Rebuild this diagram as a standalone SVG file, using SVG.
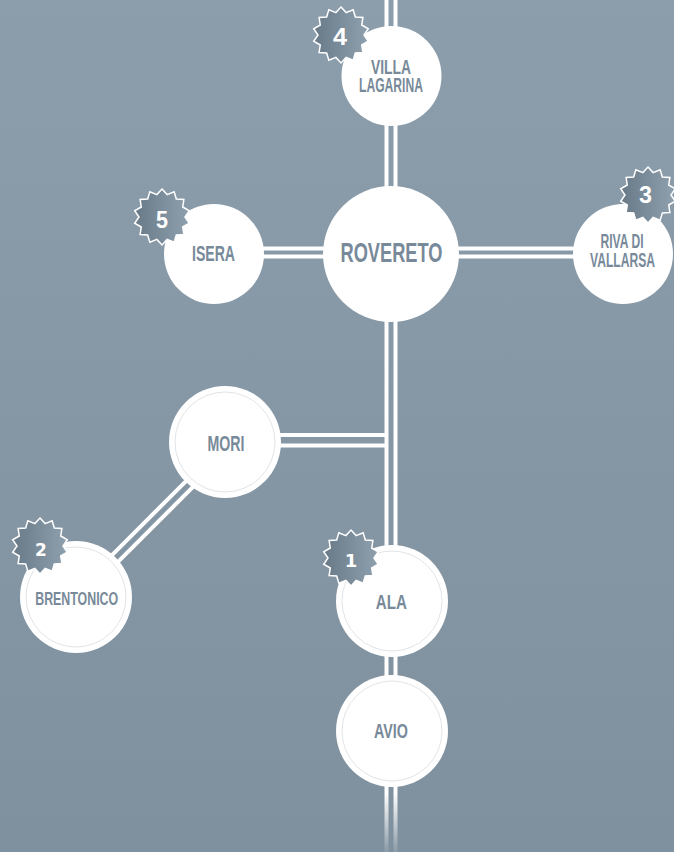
<svg xmlns="http://www.w3.org/2000/svg" width="674" height="852" viewBox="0 0 674 852">
  <defs>
    <linearGradient id="bg" x1="0" y1="0" x2="0" y2="1">
      <stop offset="0" stop-color="#8c9dab"/>
      <stop offset="1" stop-color="#7f909e"/>
    </linearGradient>
    <linearGradient id="fade" gradientUnits="userSpaceOnUse" x1="0" y1="0" x2="0" y2="852">
      <stop offset="0" stop-color="#ffffff" stop-opacity="1"/>
      <stop offset="0.93" stop-color="#ffffff" stop-opacity="1"/>
      <stop offset="1" stop-color="#ffffff" stop-opacity="0.1"/>
    </linearGradient>
    <linearGradient id="badgeFill" x1="0" y1="0" x2="1" y2="0">
      <stop offset="0" stop-color="#687988"/>
      <stop offset="1" stop-color="#8fa0ae"/>
    </linearGradient>
    <polygon id="star" points="0,-28 5.12,-22.42 12.15,-25.23 14.34,-17.98 21.89,-17.46 20.72,-9.98 27.3,-6.23 23,0 27.3,6.23 20.72,9.98 21.89,17.46 14.34,17.98 12.15,25.23 5.12,22.42 0,28 -5.12,22.42 -12.15,25.23 -14.34,17.98 -21.89,17.46 -20.72,9.98 -27.3,6.23 -23,0 -27.3,-6.23 -20.72,-9.98 -21.89,-17.46 -14.34,-17.98 -12.15,-25.23 -5.12,-22.42"/>
    <style>
      .road { stroke: #ffffff; stroke-width: 4; fill: none; }
      .node { fill: #ffffff; }
      .ring { fill: none; stroke: #e1e4e7; stroke-width: 1; }
      .lbl { font-family: "Liberation Sans", Arial, sans-serif; font-weight: bold; fill: #788a99; text-anchor: middle; }
      .badge { fill: url(#badgeFill); stroke: #ffffff; stroke-width: 1.5; stroke-linejoin: miter; }
      .num { font-family: "Liberation Sans", Arial, sans-serif; font-weight: bold; fill: #ffffff; text-anchor: middle; }
      .num2 { font-family: "DejaVu Sans", sans-serif; font-weight: bold; fill: #ffffff; text-anchor: middle; }
    </style>
  </defs>

  <rect x="0" y="0" width="674" height="852" fill="url(#bg)"/>

  <g id="connectors">
    <line x1="386.5" y1="0" x2="386.5" y2="852" stroke="url(#fade)" stroke-width="4"/>
    <line x1="395.5" y1="0" x2="395.5" y2="852" stroke="url(#fade)" stroke-width="4"/>
    <line class="road" x1="250" y1="248.5" x2="580" y2="248.5"/>
    <line class="road" x1="250" y1="256.5" x2="580" y2="256.5"/>
    <line class="road" x1="260" y1="435" x2="386" y2="435"/>
    <line class="road" x1="260" y1="445.5" x2="386" y2="445.5"/>
    <line class="road" x1="93.2" y1="586.7" x2="218.2" y2="461.7"/>
    <line class="road" x1="86.8" y1="580.3" x2="211.8" y2="455.3"/>
  </g>

  <g id="node-villa-lagarina">
    <circle class="node" cx="391.5" cy="76" r="50"/>
    <text class="lbl" x="391" y="74" font-size="20" textLength="40" lengthAdjust="spacingAndGlyphs">VILLA</text>
    <text class="lbl" x="391" y="91.5" font-size="20" textLength="64" lengthAdjust="spacingAndGlyphs">LAGARINA</text>
    <use href="#star" class="badge" x="341" y="35"/>
    <text class="num" x="340" y="45" font-size="24" textLength="14" lengthAdjust="spacingAndGlyphs">4</text>
  </g>

  <g id="node-rovereto">
    <circle class="node" cx="391" cy="254" r="68"/>
    <text class="lbl" x="391.5" y="261.5" font-size="28" textLength="102" lengthAdjust="spacingAndGlyphs">ROVERETO</text>
  </g>

  <g id="node-isera">
    <circle class="node" cx="214" cy="254" r="50"/>
    <text class="lbl" x="213.5" y="261" font-size="22" textLength="43" lengthAdjust="spacingAndGlyphs">ISERA</text>
    <use href="#star" class="badge" x="162" y="217"/>
    <text class="num" x="162" y="228" font-size="24" textLength="12" lengthAdjust="spacingAndGlyphs">5</text>
  </g>

  <g id="node-riva-di-vallarsa">
    <circle class="node" cx="623" cy="254" r="50"/>
    <text class="lbl" x="622" y="248" font-size="20" textLength="43" lengthAdjust="spacingAndGlyphs">RIVA DI</text>
    <text class="lbl" x="622.5" y="266.5" font-size="20" textLength="65" lengthAdjust="spacingAndGlyphs">VALLARSA</text>
    <use href="#star" class="badge" x="648" y="195"/>
    <text class="num" x="645.5" y="203" font-size="24" textLength="13" lengthAdjust="spacingAndGlyphs">3</text>
  </g>

  <g id="node-mori">
    <circle class="node" cx="225" cy="442" r="56"/>
    <circle class="ring" cx="225" cy="442" r="50"/>
    <text class="lbl" x="226" y="451" font-size="22" textLength="37" lengthAdjust="spacingAndGlyphs">MORI</text>
  </g>

  <g id="node-brentonico">
    <circle class="node" cx="76" cy="597" r="56"/>
    <circle class="ring" cx="76" cy="597" r="50"/>
    <text class="lbl" x="76.7" y="605" font-size="18.5" textLength="83" lengthAdjust="spacingAndGlyphs">BRENTONICO</text>
    <use href="#star" class="badge" x="40" y="546"/>
    <text class="num2" x="41" y="555.5" font-size="17">2</text>
  </g>

  <g id="node-ala">
    <circle class="node" cx="392" cy="601" r="56"/>
    <circle class="ring" cx="392" cy="601" r="50"/>
    <text class="lbl" x="391.3" y="609" font-size="21" textLength="31" lengthAdjust="spacingAndGlyphs">ALA</text>
    <use href="#star" class="badge" x="351" y="558"/>
    <text class="num2" x="351" y="567" font-size="18">1</text>
  </g>

  <g id="node-avio">
    <circle class="node" cx="392" cy="731" r="56"/>
    <circle class="ring" cx="392" cy="731" r="50"/>
    <text class="lbl" x="391" y="738" font-size="21" textLength="34" lengthAdjust="spacingAndGlyphs">AVIO</text>
  </g>
</svg>
